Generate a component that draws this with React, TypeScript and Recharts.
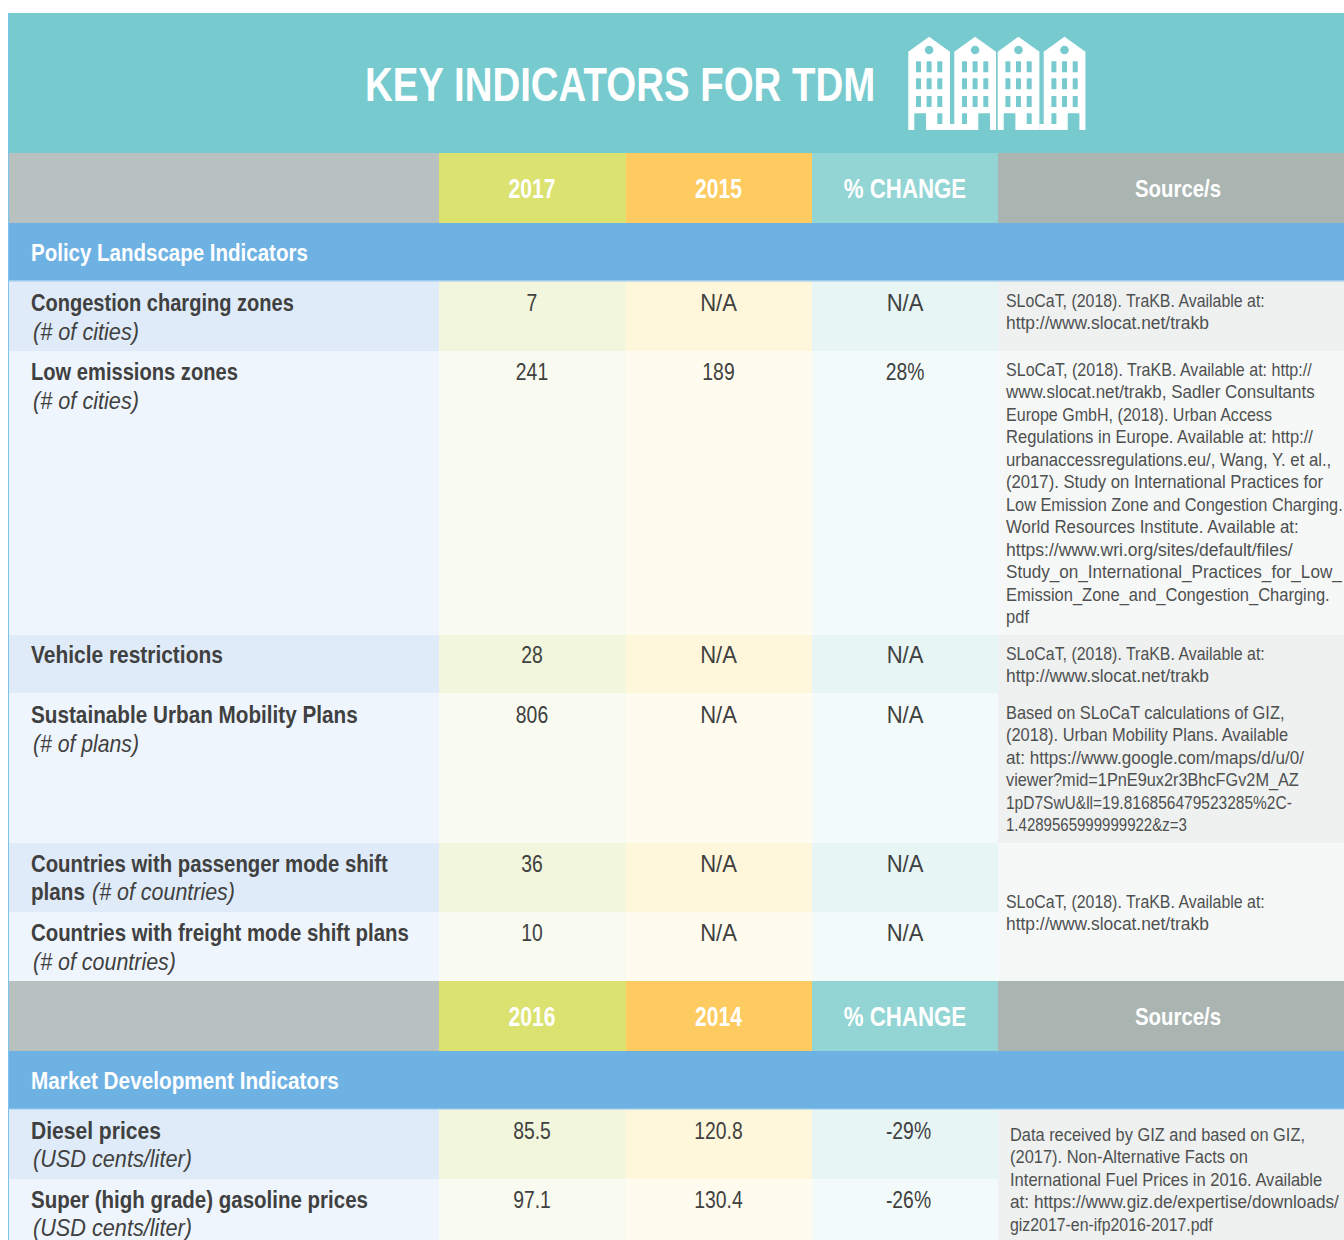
import { ComposedChart, XAxis, YAxis, ReferenceArea, ReferenceDot } from 'recharts'

const title = 'KEY INDICATORS FOR TDM'
const policyColumns = ['2017', '2015', '% CHANGE', 'Source/s']
const marketColumns = ['2016', '2014', '% CHANGE', 'Source/s']
const policyHeading = 'Policy Landscape Indicators'
const marketHeading = 'Market Development Indicators'

const indicatorNames = [
  'Congestion charging zones',
  'Low emissions zones',
  'Vehicle restrictions',
  'Sustainable Urban Mobility Plans',
  'Countries with passenger mode shift',
  'Countries with freight mode shift plans',
  'Diesel prices',
  'Super (high grade) gasoline prices',
]
const indicatorUnits = ['(# of cities)', '(# of cities)', '', '(# of plans)', '(# of countries)', '(# of countries)', '(USD cents/liter)', '(USD cents/liter)']
const latestValues = ['7', '241', '28', '806', '36', '10', '85.5', '97.1']
const earlierValues = ['N/A', '189', 'N/A', 'N/A', 'N/A', 'N/A', '120.8', '130.4']
const changeValues = ['N/A', '28%', 'N/A', 'N/A', 'N/A', 'N/A', '-29%', '-26%']

const trakbSource = ['SLoCaT, (2018). TraKB. Available at:', 'http://www.slocat.net/trakb']
const lowEmissionSource = [
  'SLoCaT, (2018). TraKB. Available at: http://',
  'www.slocat.net/trakb, Sadler Consultants',
  'Europe GmbH, (2018). Urban Access',
  'Regulations in Europe. Available at: http://',
  'urbanaccessregulations.eu/, Wang, Y. et al.,',
  '(2017). Study on International Practices for',
  'Low Emission Zone and Congestion Charging.',
  'World Resources Institute. Available at:',
  'https://www.wri.org/sites/default/files/',
  'Study_on_International_Practices_for_Low_',
  'Emission_Zone_and_Congestion_Charging.',
  'pdf',
]
const mobilitySource = [
  'Based on SLoCaT calculations of GIZ,',
  '(2018). Urban Mobility Plans. Available',
  'at: https://www.google.com/maps/d/u/0/',
  'viewer?mid=1PnE9ux2r3BhcFGv2M_AZ',
  '1pD7SwU&ll=19.816856479523285%2C-',
  '1.4289565999999922&z=3',
]
const fuelSource = [
  'Data received by GIZ and based on GIZ,',
  '(2017). Non-Alternative Facts on',
  'International Fuel Prices in 2016. Available',
  'at: https://www.giz.de/expertise/downloads/',
  'giz2017-en-ifp2016-2017.pdf',
]

// layout of the page, in px
const W = 1344
const H = 1240
const colEdges = [9, 439, 626, 812, 998, 1344]
const colCenters = [532, 718.5, 905]
const rowEdges = [281, 351, 635, 693, 843, 912, 981, 1109, 1179, 1240]
const nameBaselines = [311, 380, 663, 723, 872, 941, 1139, 1208]
const unitBaselines = [340, 409, 0, 752, 900, 970, 1167, 1236]
// the reference face is condensed and no installed font is, so each line is squeezed to its measured width
const nameWidths = [263, 207, 192, 327, 357, 378, 130, 337]
const unitWidths = [106, 106, 0, 106, 143, 143, 159, 159]
const trakbWidths = [260, 203]
const lowEmissionWidths = [307, 309, 267, 308, 326, 317, 337, 294, 287, 336, 324, 23]
const mobilityWidths = [279, 283, 298, 293, 286, 181]
const fuelWidths = [295, 238, 313, 329, 203]
const headerFills = ['#B8C1BF', '#DBE26F', '#FDCB60', '#93D5D5', '#AAB5B2']
const darkFills = ['#DFEBF8', '#F2F6DC', '#FFF7DB', '#E7F5F5']
const lightFills = ['#EFF5FD', '#F9FBF0', '#FFFCEF', '#F3FBFA']

const FONT = '"Liberation Sans", sans-serif'
const INK = '#3F4040'
const SOURCE_INK = '#4E5050'

type TextStyle = { size: number; weight?: number; italic?: boolean; fill?: string; anchor?: 'start' | 'middle'; width?: number; scale?: number }

const measureCtx = document.createElement('canvas').getContext('2d')

function fitScale(value: string, s: TextStyle) {
  if (!s.width || !measureCtx) return s.scale ?? 1
  measureCtx.font = `${s.italic ? 'italic ' : ''}${s.weight ?? 400} ${s.size}px ${FONT}`
  return s.width / measureCtx.measureText(value).width
}

function text(key: string, x: number, y: number, value: string, s: TextStyle) {
  const sx = fitScale(value, s)
  return (
    <ReferenceDot
      key={key}
      x={x}
      y={y}
      r={0}
      ifOverflow="visible"
      shape={(p: any) => (
        <text
          transform={`translate(${p.cx} ${p.cy}) scale(${sx} 1)`}
          fontFamily={FONT}
          fontSize={s.size}
          fontWeight={s.weight ?? 400}
          fontStyle={s.italic ? 'italic' : 'normal'}
          fill={s.fill ?? INK}
          textAnchor={s.anchor ?? 'start'}
        >
          {value}
        </text>
      )}
    />
  )
}

function band(key: string, x1: number, x2: number, y1: number, y2: number, fill: string) {
  return <ReferenceArea key={key} x1={x1} x2={x2} y1={y1} y2={y2} fill={fill} fillOpacity={1} stroke="none" ifOverflow="visible" />
}

function House(x: number, top: number, doorLeft: boolean) {
  const winX = [x + 7.7, x + 18.3, x + 29]
  const winY = [top + 24.6, top + 41.6, top + 59.3]
  return (
    <g key={x}>
      <path d={`M${x} ${top + 15}L${x + 20.8} ${top}L${x + 41.7} ${top + 15}V${top + 93.3}H${x}Z`} fill="#fff" />
      <circle cx={x + 20.8} cy={top + 13.3} r={4.3} fill="#77CBCF" />
      {winY.map(wy => winX.map(wx => <rect key={`${wx}-${wy}`} x={wx} y={wy} width={5} height={11} rx={0.5} fill="#77CBCF" />))}
      <rect x={doorLeft ? winX[2] : winX[0]} y={top + 76.6} width={5} height={10.7} rx={0.5} fill="#77CBCF" />
      <rect x={x + (doorLeft ? 6 : 24)} y={top + 76.6} width={11.7} height={17} rx={0.5} fill="#77CBCF" />
    </g>
  )
}

function TownIcon(p: any) {
  const { x, y, height } = p
  return (
    <g>
      <rect x={x + 40} y={y + height - 6} width={8} height={6} fill="#fff" />
      <rect x={x + 131} y={y + height - 6} width={8} height={6} fill="#fff" />
      {House(x, y, true)}
      {House(x + 46, y, false)}
      {House(x + 89.4, y, true)}
      {House(x + 135.4, y, false)}
    </g>
  )
}

function tableHeader(prefix: string, top: number, columns: string[], heading: string, headingWidth: number) {
  const numStyle: TextStyle = { size: 27, weight: 700, fill: '#fff', anchor: 'middle', scale: 0.78 }
  return [
    ...headerFills.map((f, i) => band(`${prefix}h${i}`, colEdges[i], colEdges[i + 1], top, top + 70, f)),
    band(`${prefix}sec`, 9, W, top + 70, top + 128, '#6EB1E3'),
    text(`${prefix}c0`, colCenters[0], top + 45, columns[0], numStyle),
    text(`${prefix}c1`, colCenters[1], top + 45, columns[1], numStyle),
    text(`${prefix}c2`, colCenters[2], top + 45, columns[2], { ...numStyle, scale: 0.824 }),
    text(`${prefix}c3`, 1178, top + 44, columns[3], { ...numStyle, size: 24, scale: 0.85 }),
    text(`${prefix}t`, 31, top + 108, heading, { size: 24.5, weight: 700, fill: '#fff', width: headingWidth }),
  ]
}

function sourceLines(prefix: string, lines: string[], widths: number[], x: number, first: number) {
  return lines.map((l, i) => text(`${prefix}${i}`, x, first + i * 22.45, l, { size: 18.5, fill: SOURCE_INK, width: widths[i] }))
}

export default function App() {
  const marks = [
    band('left', 8, 9, 13, H, '#7CC3EE'),
    band('banner', 9, W, 13, 153, '#77CBCF'),
    ...tableHeader('p', 153, policyColumns, policyHeading, 277),
    ...tableHeader('m', 981, marketColumns, marketHeading, 308),
  ]

  // body rows: index 6 is the gap taken by the second header
  const rowSlots = [0, 1, 2, 3, 4, 5, 7, 8]
  rowSlots.forEach((slot, r) => {
    const fills = r % 2 === 0 ? darkFills : lightFills
    fills.forEach((f, c) => {
      marks.push(band(`r${r}c${c}`, colEdges[c], colEdges[c + 1], rowEdges[slot], rowEdges[slot + 1], f))
    })
  })

  // source column bands
  marks.push(band('s0', 998, W, 281, 351, '#EFF0F0'))
  marks.push(band('s1', 998, W, 351, 635, '#F6F8F8'))
  marks.push(band('s2', 998, W, 635, 843, '#EFF0F0'))
  marks.push(band('s3', 998, W, 843, 981, '#F6F8F8'))
  marks.push(band('s4', 998, W, 1109, 1240, '#EFF0F0'))

  // thin lighter rule under the section bands
  marks.push(band('ruleP', 9, W, 280, 281.5, '#9CCBEF'))
  marks.push(band('ruleM', 9, W, 1108.5, 1109.5, '#9CCBEF'))

  const unitStyle: TextStyle = { size: 24, italic: true }
  const valueStyle: TextStyle = { size: 24.5, anchor: 'middle', scale: 0.79 }
  const cellStyle = (v: string): TextStyle => (v === 'N/A' ? { ...valueStyle, scale: 0.9 } : valueStyle)

  indicatorNames.forEach((name, i) => {
    marks.push(text(`n${i}`, 31, nameBaselines[i], name, { size: 24.5, weight: 700, width: nameWidths[i] }))
    if (i === 4) {
      marks.push(text('n4b', 31, unitBaselines[i], 'plans', { size: 24.5, weight: 700, width: 54 }))
      marks.push(text('u4', 92, unitBaselines[i], indicatorUnits[i], { ...unitStyle, width: unitWidths[i] }))
    } else if (indicatorUnits[i]) {
      marks.push(text(`u${i}`, 33, unitBaselines[i], indicatorUnits[i], { ...unitStyle, width: unitWidths[i] }))
    }
    marks.push(text(`a${i}`, colCenters[0], nameBaselines[i], latestValues[i], cellStyle(latestValues[i])))
    marks.push(text(`b${i}`, colCenters[1], nameBaselines[i], earlierValues[i], cellStyle(earlierValues[i])))
    const changeX = i >= 6 ? colCenters[2] + 3.5 : colCenters[2]
    marks.push(text(`d${i}`, changeX, nameBaselines[i], changeValues[i], cellStyle(changeValues[i])))
  })

  marks.push(...sourceLines('sa', trakbSource, trakbWidths, 1006, 307))
  marks.push(...sourceLines('sb', lowEmissionSource, lowEmissionWidths, 1006, 376))
  marks.push(...sourceLines('sc', trakbSource, trakbWidths, 1006, 660))
  marks.push(...sourceLines('sd', mobilitySource, mobilityWidths, 1006, 719))
  marks.push(...sourceLines('se', trakbSource, trakbWidths, 1006, 908))
  marks.push(...sourceLines('sf', fuelSource, fuelWidths, 1010, 1141))

  marks.push(text('title', 365, 101, title, { size: 48, weight: 700, fill: '#fff', width: 511 }))

  return (
    <div style={{ position: 'absolute', left: 0, top: 0, width: W, height: H, overflow: 'hidden', background: '#fff' }}>
      <ComposedChart width={W} height={H} data={[]} margin={{ top: 0, right: 0, bottom: 0, left: 0 }}>
        <XAxis type="number" dataKey="x" domain={[0, W]} hide allowDataOverflow />
        <YAxis type="number" domain={[0, H]} reversed hide allowDataOverflow width={0} />
        {marks}
        <ReferenceArea x1={908.3} x2={1085} y1={36.7} y2={130} shape={TownIcon} ifOverflow="visible" />
      </ComposedChart>
    </div>
  )
}
